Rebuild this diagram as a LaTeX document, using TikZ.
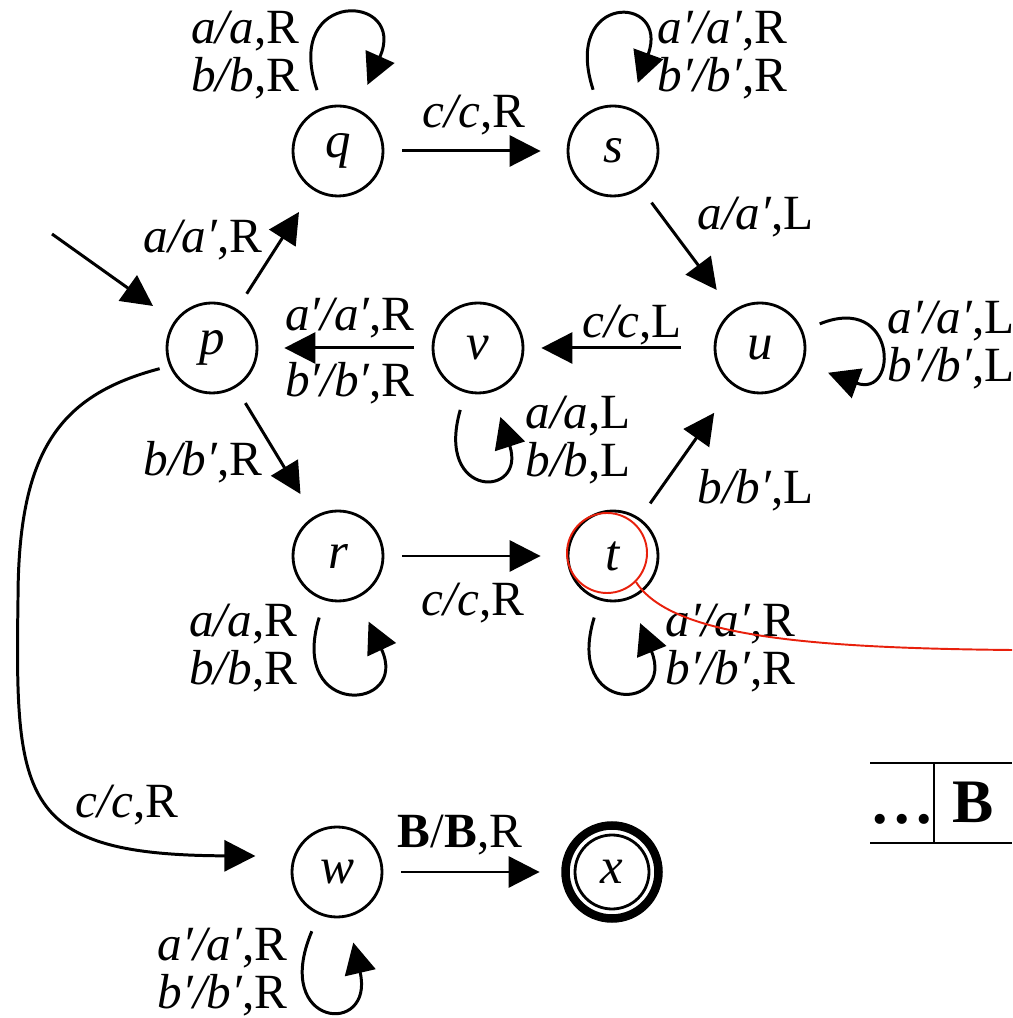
\documentclass[tikz,border=0pt]{standalone}
\usepackage{fontspec}
\setmainfont{Liberation Serif}
\usetikzlibrary{arrows.meta,positioning}
\definecolor{ink}{HTML}{000000}
\definecolor{redline}{HTML}{E8200C}
\tikzset{
  state/.style={circle,draw=ink,line width=0.8pt,minimum size=9mm,inner sep=0pt,
    font=\fontsize{14.5}{14.5}\selectfont\itshape,text=ink},
  accept/.style={state,minimum size=7.4mm},
  flow/.style={-{Triangle[length=3.1mm,width=3.1mm]},line width=0.85pt,color=ink,
    shorten <=1.8mm,shorten >=2.6mm},
  lbl/.style={font=\fontsize{14}{13.6}\selectfont,inner sep=0pt,text=ink},
  ring/.style={circle,draw=redline,line width=0.55pt,minimum size=8mm,inner sep=0pt},
  tape/.style={line width=0.8pt,color=ink}
}
\begin{document}
\begin{tikzpicture}[x=0.1mm,y=0.1mm]
  \useasboundingbox (0,0) rectangle (1012,1018);
  % states
  \node[state] (q) at (338,867) {q};
  \node[state] (s) at (613,867) {s};
  \node[state] (p) at (212,670) {p};
  \node[state] (v) at (478,670) {v};
  \node[state] (u) at (760,670) {u};
  \node[state] (r) at (338,462) {r};
  \node[state] (t) at (613,462) {t};
  \node[state] (w) at (337,146) {w};
  \node[accept] (x) at (612,146) {x};
  \draw[line width=0.85mm] (x.center) circle (4.65mm);
  \coordinate (init) at (52,784);
  % transitions
  \draw[flow,shorten <=0mm] (init) -- (p);
  \draw[flow] (p) -- (q);
  \draw[flow] (p) -- (r);
  \draw[flow] (q) -- (s);
  \draw[flow] (s) -- (u);
  \draw[flow,shorten <=3.3mm,shorten >=1.7mm] (u) -- (v);
  \draw[flow] (v) -- (p);
  \draw[flow] (r) -- (t);
  \draw[flow,shorten >=3.3mm] (t) -- (u);
  \draw[flow,shorten >=3.4mm] (w) -- (x);
  \draw[flow,shorten <=1mm,shorten >=3.8mm] (p.203) .. controls (60,623) and (18,568) .. (18,418)
    .. controls (15,218) and (20,163) .. (w.160);
  % loops
  \draw[flow] (q) to[out=109,in=66,looseness=9.5] (q);
  \draw[flow] (s) to[out=108,in=70,looseness=10.2] (s);
  \draw[flow] (u) to[out=22,in=-20,looseness=7.8] (u);
  \draw[flow] (v) to[out=-106,in=-72,looseness=10.5] (v);
  \draw[flow] (r) to[out=-107,in=-65,looseness=9.6] (r);
  \draw[flow] (t) to[out=-107,in=-68,looseness=10] (t);
  \draw[flow] (w) to[out=-113,in=-77,looseness=11] (w);
  % labels
  \node[lbl,align=right,anchor=east] (lq) at (300,963) {\textit{a/a},R\\\textit{b/b},R};
  \node[lbl,align=left,anchor=west] (ls) at (657,963) {\textit{a′/a′},R\\\textit{b′/b′},R};
  \node[lbl,anchor=east] (lpq) at (263,778) {\textit{a/a′},R};
  \node[lbl] (lqs) at (474,903) {\textit{c/c},R};
  \node[lbl,anchor=west] (lsu) at (697,801) {\textit{a/a′},L};
  \node[lbl,align=left,anchor=west] (lu) at (887,673) {\textit{a′/a′},L\\\textit{b′/b′},L};
  \node[lbl] (luv) at (632,693) {\textit{c/c},L};
  \node[lbl] (lvp1) at (350,700) {\textit{a′/a′},R};
  \node[lbl] (lvp2) at (350,635) {\textit{b′/b′},R};
  \node[lbl,align=left,anchor=west] (lv) at (525,578) {\textit{a/a},L\\\textit{b/b},L};
  \node[lbl,anchor=east] (lpr) at (263,556) {\textit{b/b′},R};
  \node[lbl,anchor=west] (ltu) at (697,528) {\textit{b/b′},L};
  \node[lbl] (lrt) at (473,415) {\textit{c/c},R};
  \node[lbl,align=right,anchor=east] (lr) at (298,370) {\textit{a/a},R\\\textit{b/b},R};
  \node[lbl,align=left,anchor=west] (lt) at (665,370) {\textit{a′/a′},R\\\textit{b′/b′},R};
  \node[lbl] (lpw) at (127,213) {\textit{c/c},R};
  \node[lbl] (lwx) at (460,183) {\textbf{B}/\textbf{B},R};
  \node[lbl,align=right,anchor=east] (lw) at (288,46) {\textit{a′/a′},R\\\textit{b′/b′},R};
  % tape
  \draw[tape] (870,255) -- (1012,255);
  \draw[tape] (870,175) -- (1012,175);
  \draw[tape] (934,255) -- (934,175);
  \node[lbl,font=\fontsize{17.6}{20}\selectfont\bfseries] (dots) at (902,199) {.\kern1.8pt.\kern1.8pt.};
  \node[lbl,font=\fontsize{17.6}{20}\selectfont\bfseries] (blank) at (973,216) {B};
  % highlight
  \node[ring] (hl) at (607,465) {};
  \coordinate (exit) at (1012,368);
  \draw[redline,line width=0.55pt] (hl.-45) .. controls (670,383) and (800,370) .. (exit);
\end{tikzpicture}
\end{document}
